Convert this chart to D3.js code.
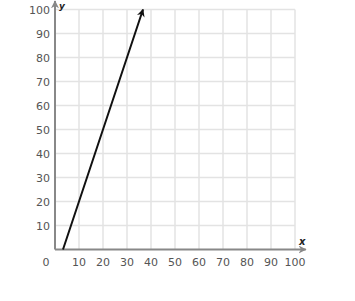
<!DOCTYPE html>
<html>
<head>
<meta charset="utf-8">
<script src="https://cdn.jsdelivr.net/npm/d3@7"></script>
<style>
  body { margin: 0; background: #fff; }
  .tick-label { font-family: "DejaVu Sans", Verdana, sans-serif; font-size: 11px; fill: #555; }
  .axis-name { font-family: "DejaVu Sans", sans-serif; font-style: italic; font-weight: bold; font-size: 10px; fill: #222; }
</style>
</head>
<body>
<svg id="chart" width="355" height="301"></svg>
<script>
  // tick values on both axes
  const xTicks = [10, 20, 30, 40, 50, 60, 70, 80, 90, 100];
  const yTicks = [10, 20, 30, 40, 50, 60, 70, 80, 90, 100];
  // the drawn line, y = 3x - 10, from the x axis up to y = 100
  const lineX = [10 / 3, 110 / 3];
  const lineY = [0, 100];

  const svg = d3.select('#chart');
  const x = d3.scaleLinear().domain([0, 100]).range([55, 295]);
  const y = d3.scaleLinear().domain([0, 100]).range([249.5, 9.5]);

  const defs = svg.append('defs');
  defs.append('marker')
    .attr('id', 'arrow')
    .attr('viewBox', '0 0 10 10')
    .attr('refX', 9).attr('refY', 5)
    .attr('markerWidth', 4).attr('markerHeight', 4)
    .attr('markerUnits', 'strokeWidth')
    .attr('orient', 'auto')
    .append('path').attr('d', 'M0,0 L10,5 L0,10 L3,5 Z').attr('fill', '#111');

  defs.append('marker')
    .attr('id', 'axisArrow')
    .attr('viewBox', '0 0 10 10')
    .attr('refX', 9).attr('refY', 5)
    .attr('markerWidth', 4).attr('markerHeight', 4)
    .attr('markerUnits', 'strokeWidth')
    .attr('orient', 'auto')
    .append('path').attr('d', 'M0,0 L10,5 L0,10 L3,5 Z').attr('fill', '#888');

  // grid
  svg.selectAll('.vgrid').data(xTicks).enter().append('line')
    .attr('x1', d => x(d)).attr('x2', d => x(d))
    .attr('y1', y(0)).attr('y2', y(100))
    .attr('stroke', '#e3e3e3').attr('stroke-width', 1.5);
  svg.selectAll('.hgrid').data(yTicks).enter().append('line')
    .attr('x1', x(0)).attr('x2', x(100))
    .attr('y1', d => y(d)).attr('y2', d => y(d))
    .attr('stroke', '#e3e3e3').attr('stroke-width', 1.5);

  // axes
  svg.append('line')
    .attr('x1', x(0)).attr('x2', x(104.5))
    .attr('y1', y(0)).attr('y2', y(0))
    .attr('stroke', '#888').attr('stroke-width', 2)
    .attr('marker-end', 'url(#axisArrow)');
  svg.append('line')
    .attr('x1', x(0)).attr('x2', x(0))
    .attr('y1', y(0)).attr('y2', y(103.5))
    .attr('stroke', '#888').attr('stroke-width', 2)
    .attr('marker-end', 'url(#axisArrow)');

  // tick labels
  svg.selectAll('.xl').data(xTicks).enter().append('text')
    .attr('class', 'tick-label')
    .attr('x', d => x(d)).attr('y', y(0) + 16)
    .attr('text-anchor', 'middle')
    .text(d => d);
  svg.selectAll('.yl').data(yTicks).enter().append('text')
    .attr('class', 'tick-label')
    .attr('x', x(0) - 5).attr('y', d => y(d) + 4)
    .attr('text-anchor', 'end')
    .text(d => d);
  svg.append('text').attr('class', 'tick-label')
    .attr('x', x(0) - 9).attr('y', y(0) + 16)
    .attr('text-anchor', 'middle').text('0');

  svg.append('text').attr('class', 'axis-name')
    .attr('x', x(100) + 4).attr('y', y(0) - 5).text('x');
  svg.append('text').attr('class', 'axis-name')
    .style('font-size', '9px')
    .attr('x', x(0) + 4).attr('y', 9).text('y');

  // the line
  svg.append('line')
    .attr('x1', x(lineX[0])).attr('y1', y(lineY[0]))
    .attr('x2', x(lineX[1])).attr('y2', y(lineY[1]))
    .attr('stroke', '#111').attr('stroke-width', 2)
    .attr('marker-end', 'url(#arrow)');
</script>
</body>
</html>
